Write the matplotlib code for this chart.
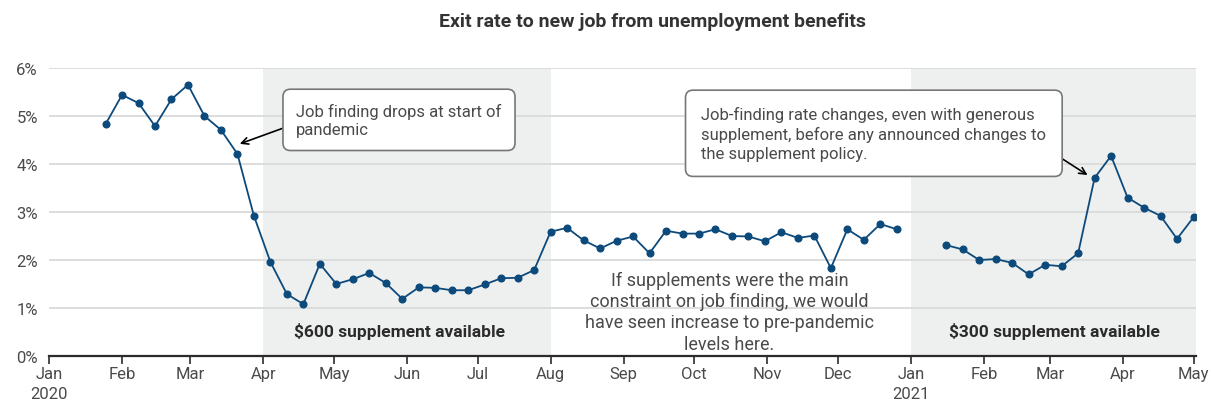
import matplotlib
matplotlib.use('Agg')

import matplotlib.pyplot as plt
import matplotlib.dates as mdates
import pandas as pd

# Weekly exit rate (%), week ending Saturday
dates_2020 = pd.date_range('2020-01-25', '2020-12-26', freq='7D')
rate_2020 = [4.83, 5.44, 5.27, 4.79, 5.35, 5.65, 5.00, 4.71, 4.21, 2.92,
             1.96, 1.29, 1.08, 1.92, 1.50, 1.60, 1.73, 1.52, 1.19, 1.43,
             1.42, 1.37, 1.37, 1.49, 1.62, 1.63, 1.79, 2.59, 2.67, 2.41,
             2.24, 2.40, 2.49, 2.14, 2.61, 2.55, 2.55, 2.64, 2.50, 2.49,
             2.39, 2.58, 2.46, 2.51, 1.83, 2.64, 2.42, 2.75, 2.64]
dates_2021 = pd.date_range('2021-01-16', '2021-05-01', freq='7D')
rate_2021 = [2.31, 2.22, 2.00, 2.02, 1.94, 1.70, 1.90, 1.87, 2.14, 3.71,
             4.17, 3.30, 3.09, 2.92, 2.44, 2.89]

shade_600 = ('2020-04-01', '2020-08-01')
shade_300 = ('2021-01-01', '2021-05-02')
y_ticks = [0, 1, 2, 3, 4, 5, 6]

plt.rcParams['font.family'] = ['Roboto', 'DejaVu Sans']

colors = {
    'line': '#0d4a7c',
    'shade': '#eef0ef',
    'grid': '#dadada',
    'text': '#4a4a4a',
    'dark': '#2b2b2b',
}

fig = plt.figure(figsize=(12.11, 4.06), dpi=100)
ax = fig.add_axes([0.0405, 0.1207, 0.947, 0.7093])

for start, end in (shade_600, shade_300):
    ax.axvspan(pd.Timestamp(start), pd.Timestamp(end), color=colors['shade'], zorder=0, lw=0)

for y in y_ticks[1:]:
    ax.axhline(y, color=colors['grid'], lw=1.3, zorder=1)

ax.plot(dates_2020, rate_2020, color=colors['line'], lw=1.3, marker='o', ms=4.8, zorder=3)
ax.plot(dates_2021, rate_2021, color=colors['line'], lw=1.3, marker='o', ms=4.8, zorder=3)

ax.set_xlim(pd.Timestamp('2020-01-01'), pd.Timestamp('2021-05-02'))
ax.set_ylim(0, 6)
ax.set_yticks(y_ticks)
ax.set_yticklabels([f'{v}%' for v in y_ticks])

ax.xaxis.set_major_locator(mdates.MonthLocator())
def month_fmt(x, pos=None):
    d = mdates.num2date(x)
    lab = d.strftime('%b')
    if d.month == 1:
        lab += '\n' + d.strftime('%Y')
    return lab
ax.xaxis.set_major_formatter(plt.FuncFormatter(month_fmt))

for side in ('left', 'right', 'top'):
    ax.spines[side].set_visible(False)
ax.spines['bottom'].set_color(colors['dark'])
ax.spines['bottom'].set_linewidth(1.6)
ax.tick_params(axis='y', length=0, labelsize=12, colors=colors['text'], pad=8)
ax.tick_params(axis='x', length=6, width=1.2, color=colors['dark'], labelsize=12,
               labelcolor=colors['text'], pad=1)
for lab in ax.get_xticklabels():
    lab.set_linespacing(1.45)
    lab.set_horizontalalignment('center')

fig.text(0.539, 0.946, 'Exit rate to new job from unemployment benefits', fontsize=14,
         fontweight='bold', color='#333333', ha='center', va='center')

box1 = dict(boxstyle='round,pad=0.8,rounding_size=0.45', fc='white', ec='#777777', lw=1.2)
box2 = dict(boxstyle='round,pad=0.95,rounding_size=0.45', fc='white', ec='#777777', lw=1.2)
ax.annotate('Job finding drops at start of\npandemic',
            xy=(pd.Timestamp('2020-03-22'), 4.42), xytext=(pd.Timestamp('2020-04-15'), 4.92),
            fontsize=12, color=colors['text'], va='center', ha='left', bbox=box1,
            linespacing=1.3,
            arrowprops=dict(arrowstyle='->', color='black', lw=1.2,
                            shrinkA=0, shrinkB=0, relpos=(0.0, 0.4)), zorder=5)
ax.annotate('Job-finding rate changes, even with generous\nsupplement, before any announced changes to\nthe supplement policy.',
            xy=(pd.Timestamp('2021-03-17'), 3.77), xytext=(pd.Timestamp('2020-10-04'), 4.64),
            fontsize=12, color=colors['text'], va='center', ha='left', bbox=box2,
            linespacing=1.3,
            arrowprops=dict(arrowstyle='->', color='black', lw=1.2,
                            shrinkA=0, shrinkB=0, relpos=(1.0, 0.22)), zorder=5)

ax.text(pd.Timestamp('2020-10-16'), 0.92,
        'If supplements were the main\nconstraint on job finding, we would\nhave seen increase to pre-pandemic\nlevels here.',
        ha='center', va='center', fontsize=13, color=colors['text'], linespacing=1.22)
ax.text(pd.Timestamp('2020-05-29'), 0.54, '$600 supplement available', ha='center', va='center',
        fontsize=12.5, fontweight='bold', color=colors['dark'])
ax.text(pd.Timestamp('2021-03-03'), 0.54, '$300 supplement available', ha='center', va='center',
        fontsize=12.5, fontweight='bold', color=colors['dark'])

fig.savefig('out.png', dpi=100)
plt.close(fig)
